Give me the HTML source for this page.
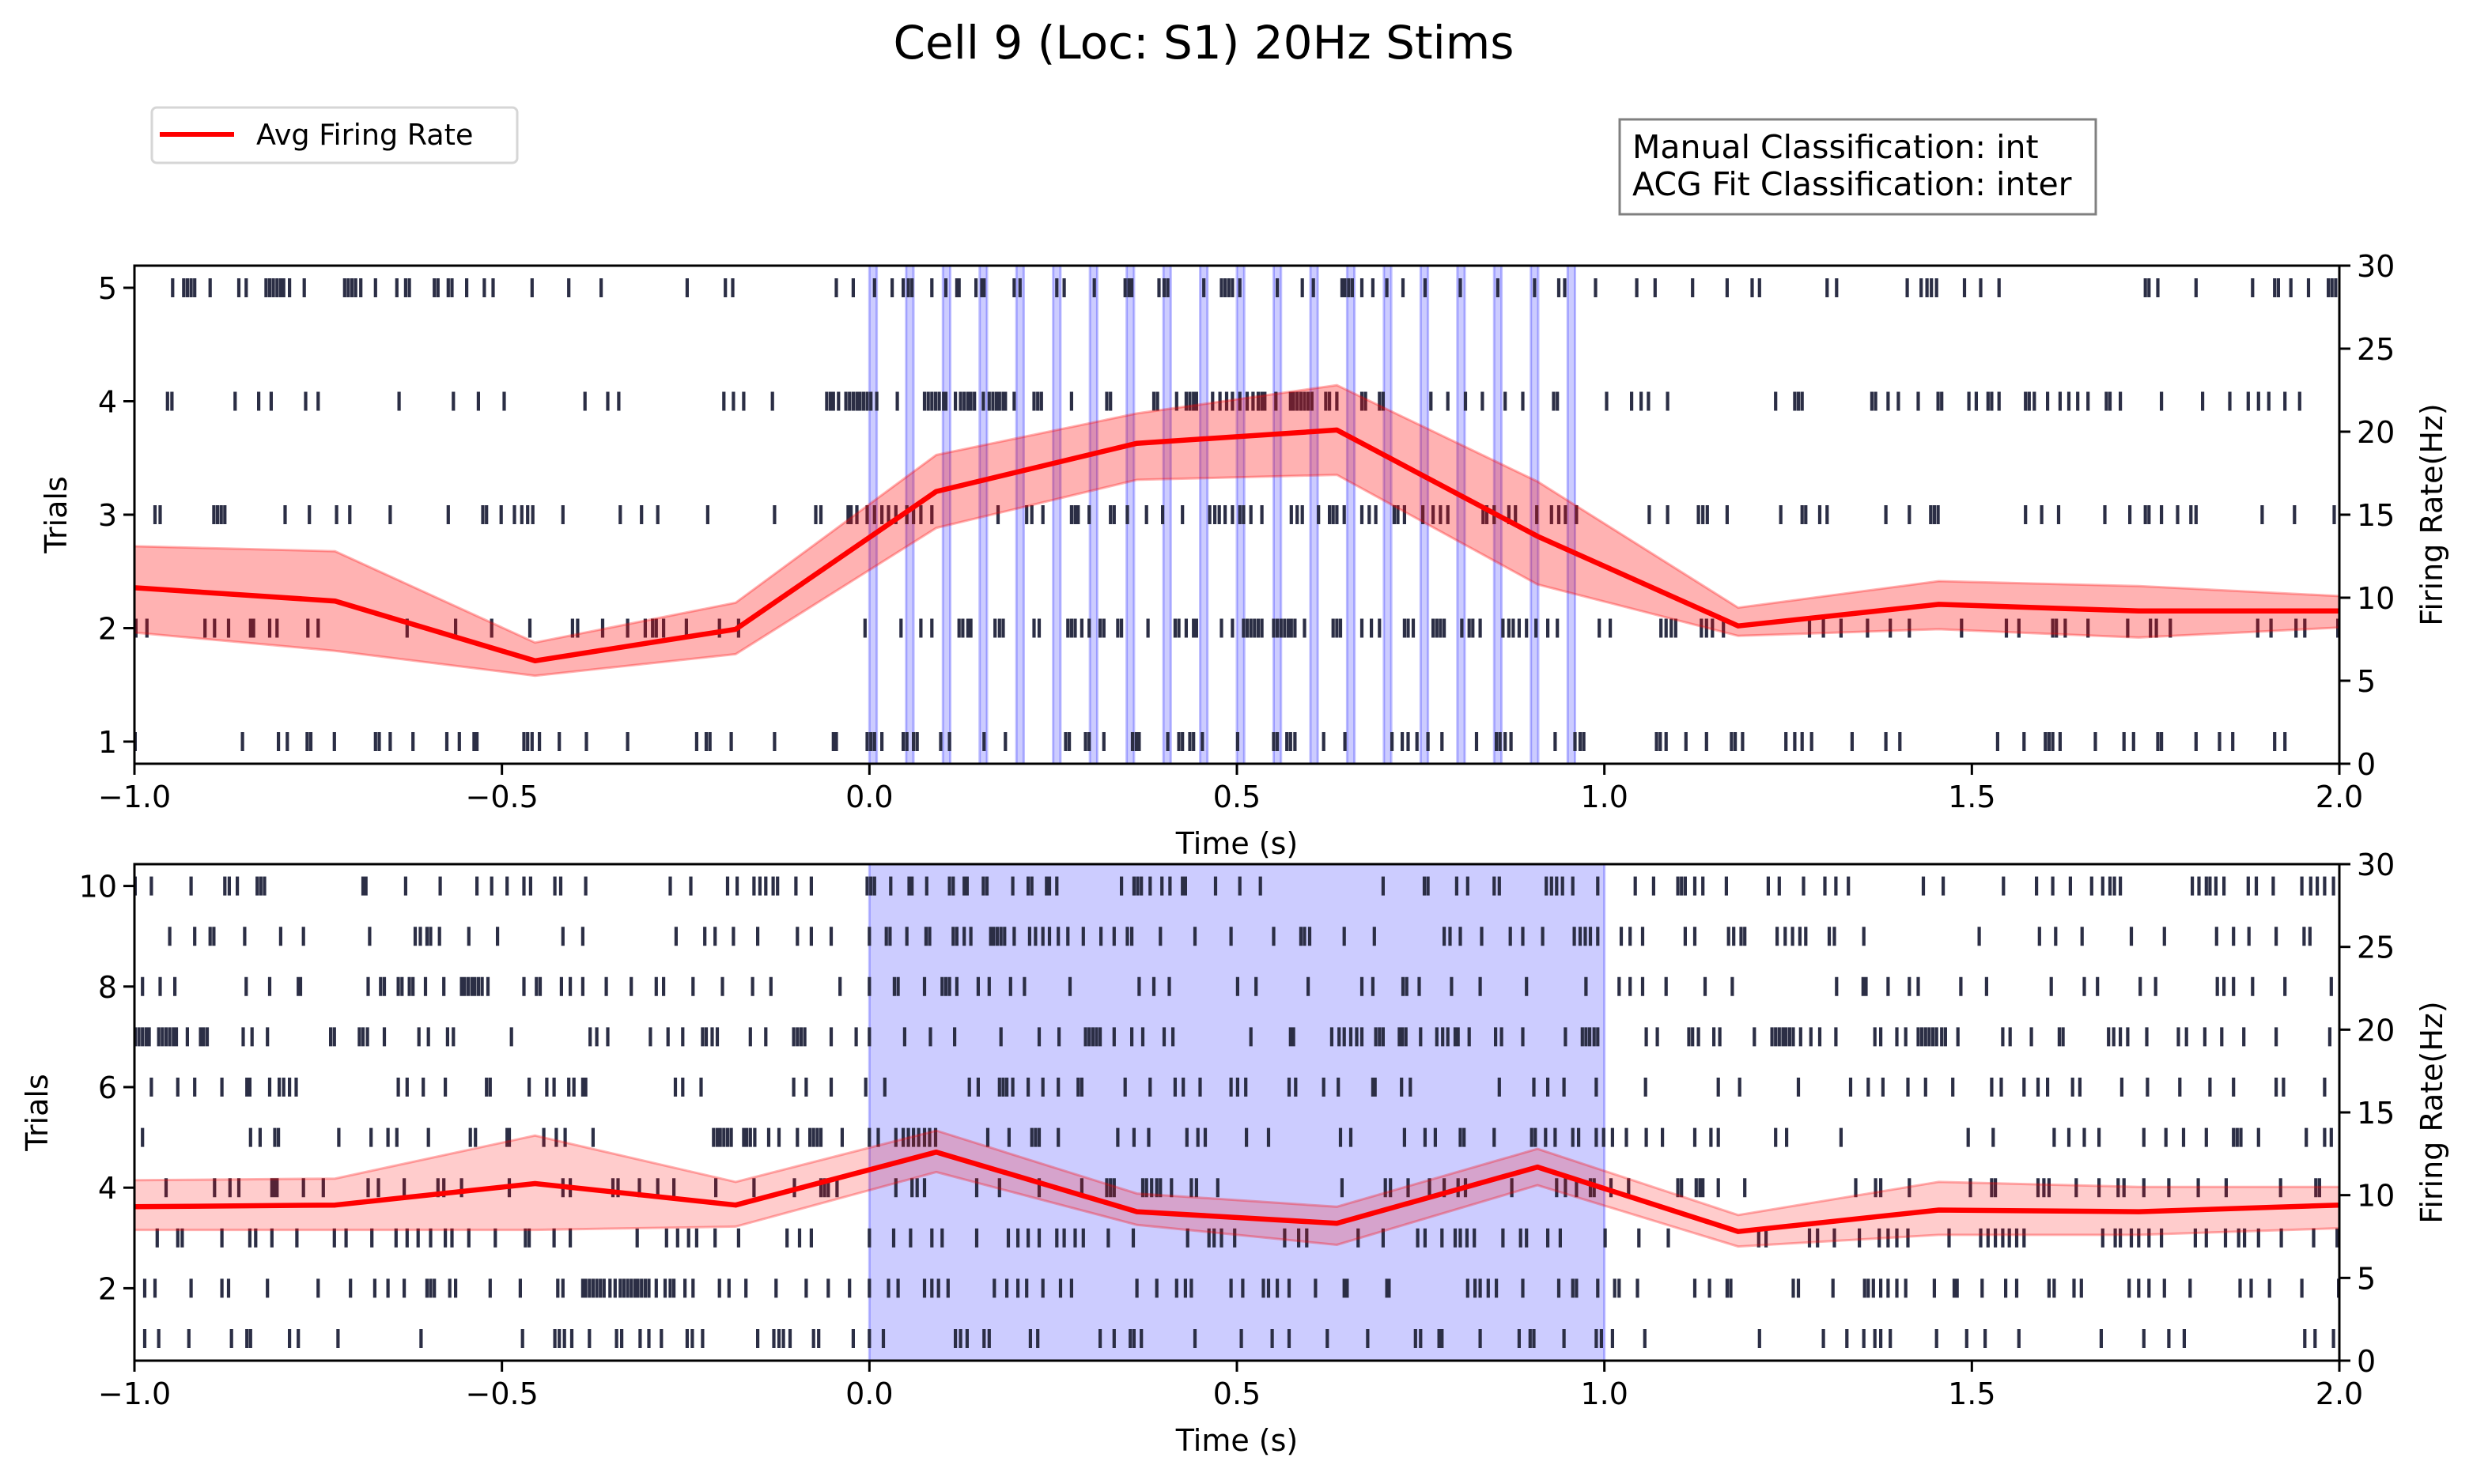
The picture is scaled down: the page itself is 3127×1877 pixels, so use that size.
<!DOCTYPE html>
<html><head><meta charset="utf-8"><title>Cell 9 (Loc: S1) 20Hz Stims</title>
<style>
html,body{margin:0;padding:0;background:#fff;}
svg{display:block;font-family:"DejaVu Sans","Liberation Sans",sans-serif;}
</style></head>
<body>
<svg id="fig" width="3127" height="1877" viewBox="0 0 3127 1877" xmlns="http://www.w3.org/2000/svg">
<rect x="0" y="0" width="3127" height="1877" fill="#fff"/>
<text x="1522" y="74" font-size="58" text-anchor="middle">Cell 9 (Loc: S1) 20Hz Stims</text>
<g>
<rect x="192" y="136" width="462" height="70" rx="6" fill="#fff" stroke="#d6d6d6" stroke-width="3"/>
<line x1="202" y1="170" x2="296" y2="170" stroke="#ff0000" stroke-width="6"/>
<text x="324" y="183" font-size="36.5">Avg Firing Rate</text>
</g>
<g>
<rect x="2048" y="151" width="602" height="120" fill="#fff" stroke="#808080" stroke-width="3"/>
<text x="2064" y="200" font-size="41">Manual Classification: int</text>
<text x="2064" y="247" font-size="41">ACG Fit Classification: inter</text>
</g>
<g id="top"></g>
<g id="bot"></g>
</svg>
<script>
const rateTimes = [-1,-0.727,-0.455,-0.182,0.091,0.364,0.636,0.909,1.182,1.455,1.727,2.0];
const topRate = [10.6,9.8,6.2,8.1,16.4,19.3,20.1,13.7,8.3,9.6,9.2,9.2];
const topUpper = [13.1,12.8,7.3,9.7,18.6,21.1,22.8,17.0,9.4,11.0,10.7,10.1];
const topLower = [7.9,6.8,5.3,6.6,14.2,17.1,17.4,10.8,7.7,8.1,7.6,8.2];
const botRate = [9.3,9.4,10.7,9.4,12.6,9.0,8.3,11.7,7.8,9.1,9.0,9.4];
const botUpper = [10.9,11.0,13.6,10.8,13.9,10.1,9.3,12.8,8.8,10.8,10.5,10.5];
const botLower = [7.9,7.9,7.9,8.1,11.4,8.2,7.0,10.6,6.9,7.6,7.6,8.0];
const stimOnsets = [0,0.05,0.1,0.15,0.2,0.25,0.3,0.35,0.4,0.45,0.5,0.55,0.6,0.65,0.7,0.75,0.8,0.85,0.9,0.95];
const stimWidth = 0.01;
const xTicks = [-1.0,-0.5,0.0,0.5,1.0,1.5,2.0];
const xTickLabels = ["\u22121.0","\u22120.5","0.0","0.5","1.0","1.5","2.0"];
const rateTicks = [0,5,10,15,20,25,30];
const topTrialTicks = [1,2,3,4,5];
const botTrialTicks = [2,4,6,8,10];

const topSpikes1 = [-0.999,-0.853,-0.804,-0.792,-0.765,-0.760,-0.728,-0.672,-0.667,-0.652,-0.621,-0.575,-0.558,-0.538,-0.534,-0.470,-0.465,-0.459,-0.449,-0.422,-0.385,-0.329,-0.235,-0.222,-0.217,-0.188,-0.129,-0.049,-0.045,-0.003,0.002,0.007,0.017,0.046,0.051,0.060,0.065,0.097,0.109,0.156,0.185,0.267,0.272,0.294,0.299,0.319,0.358,0.363,0.367,0.406,0.421,0.426,0.436,0.441,0.453,0.501,0.550,0.555,0.568,0.573,0.579,0.618,0.647,0.711,0.725,0.733,0.745,0.760,0.779,0.826,0.853,0.858,0.865,0.873,0.933,0.960,0.967,0.972,1.071,1.076,1.084,1.111,1.139,1.173,1.178,1.188,1.247,1.259,1.269,1.282,1.337,1.383,1.402,1.535,1.571,1.600,1.605,1.610,1.620,1.668,1.707,1.720,1.753,1.758,1.805,1.837,1.855,1.912,1.926];
const topSpikes2 = [-0.998,-0.983,-0.904,-0.891,-0.872,-0.842,-0.838,-0.816,-0.806,-0.764,-0.750,-0.629,-0.563,-0.514,-0.462,-0.404,-0.397,-0.363,-0.329,-0.305,-0.295,-0.290,-0.280,-0.249,-0.204,-0.178,-0.006,0.043,0.070,0.085,0.122,0.127,0.134,0.138,0.171,0.177,0.182,0.224,0.231,0.270,0.275,0.280,0.289,0.299,0.314,0.319,0.338,0.343,0.379,0.416,0.421,0.431,0.441,0.445,0.479,0.494,0.509,0.514,0.519,0.524,0.529,0.534,0.550,0.555,0.560,0.565,0.570,0.574,0.579,0.592,0.631,0.636,0.641,0.670,0.683,0.694,0.728,0.733,0.740,0.767,0.772,0.777,0.782,0.806,0.816,0.821,0.831,0.862,0.870,0.876,0.884,0.894,0.907,0.923,0.936,0.993,1.008,1.077,1.084,1.091,1.097,1.132,1.139,1.147,1.162,1.279,1.298,1.322,1.358,1.389,1.415,1.486,1.547,1.564,1.610,1.615,1.627,1.658,1.712,1.743,1.751,1.770,1.889,1.907,1.941,1.953,1.998];
const topSpikes3 = [-0.972,-0.965,-0.892,-0.887,-0.882,-0.877,-0.795,-0.762,-0.725,-0.707,-0.652,-0.573,-0.526,-0.521,-0.501,-0.483,-0.473,-0.465,-0.458,-0.417,-0.339,-0.310,-0.288,-0.220,-0.129,-0.073,-0.066,-0.029,-0.025,-0.017,-0.003,0.007,0.017,0.026,0.036,0.051,0.060,0.070,0.085,0.175,0.214,0.221,0.236,0.275,0.280,0.284,0.299,0.328,0.333,0.351,0.377,0.399,0.426,0.463,0.470,0.476,0.484,0.494,0.504,0.509,0.519,0.534,0.574,0.582,0.589,0.611,0.626,0.631,0.636,0.646,0.670,0.680,0.689,0.714,0.719,0.728,0.753,0.767,0.777,0.787,0.835,0.840,0.850,0.870,0.879,0.908,0.928,0.938,0.947,0.962,1.061,1.086,1.128,1.134,1.140,1.167,1.240,1.269,1.274,1.293,1.303,1.383,1.415,1.444,1.449,1.454,1.573,1.595,1.618,1.681,1.715,1.736,1.741,1.758,1.780,1.798,1.805,1.895,1.939,1.993];
const topSpikes4 = [-0.955,-0.949,-0.863,-0.831,-0.814,-0.767,-0.750,-0.640,-0.566,-0.532,-0.497,-0.387,-0.356,-0.341,-0.198,-0.185,-0.171,-0.132,-0.058,-0.053,-0.049,-0.042,-0.032,-0.027,-0.022,-0.017,-0.013,-0.008,-0.003,0.002,0.010,0.038,0.075,0.080,0.085,0.090,0.095,0.101,0.104,0.117,0.124,0.129,0.134,0.138,0.143,0.155,0.163,0.168,0.173,0.177,0.182,0.185,0.197,0.224,0.229,0.234,0.275,0.323,0.328,0.387,0.392,0.418,0.431,0.436,0.441,0.445,0.467,0.477,0.486,0.494,0.504,0.514,0.522,0.529,0.534,0.538,0.553,0.573,0.577,0.582,0.587,0.592,0.597,0.602,0.621,0.626,0.636,0.670,0.675,0.694,0.699,0.764,0.787,0.811,0.834,0.865,0.889,0.931,0.936,1.003,1.037,1.050,1.060,1.086,1.233,1.259,1.264,1.269,1.364,1.369,1.386,1.400,1.427,1.454,1.459,1.496,1.506,1.522,1.527,1.537,1.573,1.578,1.585,1.603,1.620,1.632,1.644,1.658,1.683,1.688,1.702,1.758,1.814,1.851,1.876,1.890,1.904,1.926,1.946];
const topSpikes5 = [-0.948,-0.933,-0.928,-0.923,-0.918,-0.897,-0.858,-0.848,-0.821,-0.816,-0.811,-0.806,-0.801,-0.797,-0.789,-0.769,-0.714,-0.709,-0.704,-0.699,-0.692,-0.672,-0.643,-0.631,-0.626,-0.592,-0.587,-0.573,-0.568,-0.548,-0.524,-0.512,-0.459,-0.409,-0.365,-0.248,-0.196,-0.186,-0.045,-0.022,0.007,0.031,0.046,0.053,0.058,0.085,0.104,0.119,0.122,0.145,0.153,0.156,0.197,0.205,0.255,0.265,0.306,0.348,0.353,0.357,0.394,0.401,0.406,0.455,0.479,0.484,0.489,0.494,0.504,0.555,0.589,0.604,0.643,0.647,0.652,0.657,0.670,0.685,0.704,0.726,0.756,0.804,0.855,0.905,0.938,0.946,0.988,1.044,1.069,1.120,1.167,1.201,1.211,1.303,1.316,1.412,1.431,1.439,1.445,1.452,1.490,1.512,1.537,1.736,1.741,1.753,1.805,1.882,1.912,1.917,1.934,1.958,1.985,1.990,1.995];

const botSpikes1 = [-0.986,-0.967,-0.926,-0.868,-0.847,-0.842,-0.789,-0.777,-0.723,-0.610,-0.472,-0.428,-0.422,-0.415,-0.405,-0.381,-0.344,-0.337,-0.312,-0.300,-0.283,-0.248,-0.241,-0.227,-0.152,-0.130,-0.123,-0.117,-0.108,-0.076,-0.069,-0.022,0.000,0.019,0.117,0.124,0.133,0.156,0.163,0.219,0.229,0.314,0.333,0.355,0.360,0.370,0.443,0.506,0.548,0.571,0.623,0.678,0.743,0.750,0.775,0.779,0.831,0.884,0.899,0.904,0.945,0.989,0.996,1.011,1.055,1.211,1.298,1.330,1.353,1.368,1.376,1.389,1.452,1.493,1.518,1.564,1.676,1.734,1.768,1.789,1.953,1.967,1.992];
const botSpikes2 = [-0.986,-0.972,-0.923,-0.881,-0.872,-0.819,-0.750,-0.706,-0.673,-0.655,-0.633,-0.602,-0.597,-0.592,-0.571,-0.563,-0.516,-0.475,-0.424,-0.417,-0.390,-0.386,-0.381,-0.376,-0.371,-0.366,-0.361,-0.353,-0.346,-0.339,-0.334,-0.329,-0.324,-0.319,-0.315,-0.310,-0.305,-0.300,-0.290,-0.278,-0.271,-0.266,-0.251,-0.240,-0.204,-0.191,-0.168,-0.127,-0.086,-0.056,-0.027,0.000,0.026,0.039,0.075,0.085,0.094,0.107,0.170,0.187,0.202,0.214,0.236,0.260,0.275,0.364,0.391,0.418,0.430,0.438,0.492,0.508,0.536,0.543,0.555,0.571,0.607,0.646,0.650,0.704,0.707,0.814,0.824,0.831,0.842,0.853,0.889,0.938,0.957,0.962,0.991,1.014,1.020,1.045,1.123,1.143,1.167,1.172,1.257,1.264,1.311,1.354,1.359,1.366,1.376,1.386,1.398,1.410,1.449,1.476,1.480,1.514,1.546,1.561,1.605,1.612,1.639,1.649,1.714,1.727,1.741,1.762,1.797,1.865,1.880,1.905,1.949,1.999];
const botSpikes3 = [-0.969,-0.941,-0.935,-0.881,-0.843,-0.835,-0.813,-0.779,-0.728,-0.712,-0.677,-0.644,-0.629,-0.614,-0.597,-0.577,-0.568,-0.545,-0.509,-0.468,-0.463,-0.429,-0.407,-0.316,-0.276,-0.261,-0.246,-0.235,-0.210,-0.178,-0.112,-0.095,-0.079,0.000,0.033,0.056,0.085,0.099,0.146,0.189,0.202,0.216,0.231,0.255,0.265,0.280,0.291,0.325,0.359,0.433,0.462,0.469,0.479,0.497,0.565,0.584,0.595,0.665,0.699,0.746,0.756,0.779,0.797,0.804,0.813,0.823,0.862,0.886,0.894,0.923,0.940,1.001,1.047,1.087,1.210,1.220,1.279,1.290,1.313,1.347,1.374,1.386,1.398,1.413,1.469,1.512,1.522,1.532,1.542,1.551,1.561,1.571,1.678,1.695,1.702,1.717,1.727,1.741,1.758,1.804,1.819,1.845,1.863,1.871,1.890,1.921,1.965,1.997];
const botSpikes4 = [-0.957,-0.891,-0.870,-0.858,-0.813,-0.809,-0.806,-0.770,-0.743,-0.682,-0.668,-0.633,-0.587,-0.579,-0.555,-0.490,-0.417,-0.407,-0.349,-0.342,-0.313,-0.288,-0.266,-0.209,-0.157,-0.102,-0.066,-0.061,-0.056,-0.044,0.036,0.058,0.065,0.075,0.146,0.177,0.231,0.289,0.323,0.328,0.333,0.372,0.377,0.384,0.391,0.396,0.411,0.438,0.445,0.474,0.643,0.702,0.709,0.733,0.762,0.782,0.801,0.811,0.874,0.935,0.947,0.962,0.981,0.986,1.009,1.033,1.100,1.105,1.125,1.130,1.134,1.155,1.191,1.342,1.369,1.376,1.415,1.498,1.527,1.532,1.590,1.598,1.605,1.642,1.673,1.699,1.707,1.734,1.768,1.808,1.846,1.920,1.968,1.973];
const botSpikes5 = [-0.989,-0.842,-0.829,-0.809,-0.804,-0.722,-0.678,-0.655,-0.643,-0.600,-0.543,-0.536,-0.493,-0.490,-0.443,-0.426,-0.414,-0.376,-0.212,-0.207,-0.203,-0.198,-0.193,-0.188,-0.171,-0.167,-0.162,-0.156,-0.137,-0.123,-0.098,-0.081,-0.076,-0.071,-0.066,-0.037,0.000,0.012,0.036,0.046,0.053,0.060,0.067,0.075,0.082,0.090,0.161,0.190,0.221,0.226,0.231,0.257,0.338,0.360,0.380,0.432,0.447,0.457,0.513,0.543,0.641,0.655,0.728,0.756,0.770,0.804,0.809,0.850,0.901,0.906,0.920,0.933,0.957,0.965,0.989,0.999,1.011,1.030,1.057,1.079,1.123,1.145,1.155,1.233,1.248,1.322,1.495,1.529,1.612,1.632,1.653,1.673,1.734,1.764,1.788,1.819,1.856,1.861,1.866,1.890,1.955,1.980,1.989];
const botSpikes6 = [-0.977,-0.941,-0.918,-0.881,-0.847,-0.843,-0.816,-0.803,-0.797,-0.789,-0.780,-0.641,-0.629,-0.607,-0.577,-0.521,-0.516,-0.463,-0.439,-0.429,-0.409,-0.402,-0.390,-0.386,-0.264,-0.254,-0.229,-0.103,-0.086,-0.052,-0.005,0.021,0.136,0.148,0.177,0.182,0.187,0.195,0.216,0.236,0.257,0.284,0.289,0.348,0.382,0.416,0.427,0.450,0.492,0.501,0.512,0.571,0.580,0.618,0.638,0.685,0.688,0.724,0.736,0.857,0.904,0.923,0.945,0.989,1.056,1.155,1.184,1.264,1.335,1.359,1.379,1.413,1.437,1.474,1.527,1.540,1.571,1.590,1.603,1.637,1.647,1.704,1.739,1.783,1.824,1.856,1.914,1.924,1.980];
const botSpikes7 = [-0.999,-0.994,-0.989,-0.984,-0.980,-0.967,-0.962,-0.957,-0.952,-0.947,-0.943,-0.928,-0.910,-0.906,-0.901,-0.852,-0.840,-0.819,-0.733,-0.728,-0.694,-0.689,-0.683,-0.660,-0.613,-0.600,-0.574,-0.566,-0.487,-0.380,-0.371,-0.356,-0.298,-0.274,-0.254,-0.227,-0.222,-0.214,-0.207,-0.162,-0.141,-0.103,-0.098,-0.093,-0.088,-0.052,-0.018,0.000,0.048,0.083,0.116,0.179,0.231,0.258,0.294,0.299,0.304,0.309,0.314,0.333,0.357,0.372,0.401,0.413,0.519,0.573,0.577,0.629,0.639,0.646,0.655,0.663,0.670,0.689,0.694,0.699,0.721,0.725,0.730,0.750,0.772,0.780,0.787,0.797,0.801,0.816,0.852,0.860,0.889,0.947,0.970,0.975,0.980,0.986,0.991,1.057,1.072,1.115,1.120,1.128,1.149,1.157,1.204,1.228,1.233,1.238,1.243,1.247,1.252,1.257,1.267,1.281,1.293,1.315,1.368,1.376,1.398,1.410,1.427,1.432,1.437,1.442,1.447,1.452,1.459,1.464,1.481,1.542,1.552,1.581,1.619,1.624,1.686,1.693,1.702,1.712,1.738,1.781,1.792,1.817,1.840,1.870,1.914,1.987];
const botSpikes8 = [-0.989,-0.965,-0.945,-0.848,-0.816,-0.777,-0.774,-0.682,-0.665,-0.660,-0.641,-0.636,-0.626,-0.621,-0.604,-0.579,-0.555,-0.551,-0.546,-0.541,-0.537,-0.532,-0.527,-0.519,-0.470,-0.453,-0.448,-0.419,-0.407,-0.390,-0.358,-0.324,-0.290,-0.280,-0.240,-0.200,-0.159,-0.134,-0.040,0.000,0.034,0.039,0.075,0.099,0.104,0.109,0.119,0.148,0.163,0.192,0.211,0.273,0.367,0.387,0.408,0.501,0.526,0.597,0.670,0.685,0.726,0.731,0.748,0.792,0.831,0.894,0.975,1.020,1.035,1.052,1.084,1.137,1.174,1.316,1.352,1.356,1.386,1.415,1.427,1.485,1.520,1.608,1.653,1.671,1.729,1.750,1.834,1.843,1.856,1.882,1.926,1.989];
const botSpikes9 = [-0.952,-0.918,-0.897,-0.892,-0.850,-0.801,-0.770,-0.680,-0.618,-0.611,-0.602,-0.597,-0.585,-0.545,-0.506,-0.417,-0.390,-0.263,-0.224,-0.210,-0.185,-0.152,-0.098,-0.079,-0.052,0.000,0.023,0.028,0.051,0.077,0.082,0.114,0.119,0.129,0.138,0.165,0.169,0.174,0.179,0.184,0.197,0.218,0.226,0.236,0.245,0.257,0.270,0.291,0.315,0.333,0.351,0.357,0.396,0.443,0.492,0.550,0.587,0.592,0.599,0.646,0.687,0.782,0.790,0.804,0.833,0.872,0.889,0.916,0.959,0.967,0.974,0.981,0.991,1.023,1.035,1.052,1.110,1.123,1.169,1.176,1.186,1.191,1.235,1.246,1.256,1.266,1.274,1.306,1.313,1.353,1.510,1.592,1.614,1.650,1.717,1.762,1.833,1.856,1.877,1.914,1.952,1.960];
const botSpikes10 = [-0.999,-0.977,-0.923,-0.877,-0.871,-0.860,-0.833,-0.828,-0.823,-0.689,-0.685,-0.631,-0.584,-0.534,-0.514,-0.493,-0.470,-0.461,-0.428,-0.420,-0.386,-0.271,-0.243,-0.193,-0.180,-0.157,-0.149,-0.141,-0.131,-0.125,-0.100,-0.079,-0.003,0.002,0.007,0.029,0.054,0.058,0.078,0.109,0.114,0.129,0.133,0.155,0.160,0.195,0.216,0.221,0.241,0.245,0.255,0.343,0.360,0.365,0.370,0.382,0.398,0.409,0.426,0.430,0.471,0.504,0.532,0.699,0.755,0.760,0.799,0.814,0.850,0.857,0.921,0.928,0.935,0.943,0.957,0.991,1.042,1.067,1.100,1.105,1.110,1.123,1.134,1.166,1.223,1.238,1.271,1.300,1.315,1.332,1.434,1.461,1.543,1.588,1.610,1.634,1.663,1.678,1.688,1.694,1.702,1.800,1.809,1.819,1.824,1.832,1.843,1.876,1.887,1.910,1.949,1.961,1.970,1.980,1.992];

const topSpikes = [topSpikes1,topSpikes2,topSpikes3,topSpikes4,topSpikes5];
const botSpikes = [botSpikes1,botSpikes2,botSpikes3,botSpikes4,botSpikes5,botSpikes6,botSpikes7,botSpikes8,botSpikes9,botSpikes10];

const NS = "http://www.w3.org/2000/svg";
function mk(tag, attrs, parent){
  const e = document.createElementNS(NS, tag);
  for (const k in attrs) e.setAttribute(k, attrs[k]);
  parent.appendChild(e);
  return e;
}
const X0 = 170, X1 = 2958;
function xs(t){ return X0 + (t + 1) / 3 * (X1 - X0); }

function drawPanel(g, cfg){
  const yT = cfg.yTrial, yR = cfg.yRate, top = cfg.top, bot = cfg.bot;
  const clipId = cfg.id + "-clip";
  const cp = mk("clipPath", {id: clipId}, g);
  mk("rect", {x: X0, y: top, width: X1 - X0, height: bot - top}, cp);
  const plot = mk("g", {"clip-path": "url(#" + clipId + ")"}, g);
  
  

  if (cfg.stims) {
    stimOnsets.forEach(function(s){
      const r = mk("rect", {x: xs(s), y: top, width: xs(s + stimWidth) - xs(s), height: bot - top, fill: "rgba(0,0,255,0.2)", stroke: "rgba(0,0,255,0.25)", "stroke-width": 3}, plot);
      
      
    });
  } else {
    const r = mk("rect", {x: xs(0), y: top, width: xs(1) - xs(0), height: bot - top, fill: "rgba(0,0,255,0.2)", stroke: "rgba(0,0,255,0.25)", "stroke-width": 3}, plot);
    
    
  }

  cfg.spikes.forEach(function(arr, i){
    const trial = i + 1;
    const yc = yT(trial);
    let d = "";
    arr.forEach(function(t){ const x = xs(t).toFixed(1); d += "M" + x + " " + (yc - 12) + "V" + (yc + 12); });
    const p = mk("path", {d: d, stroke: "#2b2e45", "stroke-width": 4.2, fill: "none"}, plot);
    
    
  });

  let up = "", lo = "";
  rateTimes.forEach(function(t, i){ up += (i ? "L" : "M") + xs(t).toFixed(1) + " " + yR(cfg.upper[i]).toFixed(1); });
  for (let i = rateTimes.length - 1; i >= 0; i--) lo += "L" + xs(rateTimes[i]).toFixed(1) + " " + yR(cfg.lower[i]).toFixed(1);
  const band = mk("path", {d: up + lo + "Z", fill: cfg.bandFill, stroke: "rgba(255,0,0,0.3)", "stroke-width": 3}, plot);
  
  
  let ln = "";
  rateTimes.forEach(function(t, i){ ln += (i ? "L" : "M") + xs(t).toFixed(1) + " " + yR(cfg.rate[i]).toFixed(1); });
  const line = mk("path", {d: ln, stroke: "#ff0000", "stroke-width": 6.5, fill: "none", "stroke-linejoin": "round"}, plot);
  
  

  const frame = mk("rect", {x: X0, y: top, width: X1 - X0, height: bot - top, fill: "none", stroke: "#000", "stroke-width": 3}, g);
  
  

  const xa = mk("g", {}, g);
  
  
  xTicks.forEach(function(v, i){
    mk("line", {x1: xs(v), x2: xs(v), y1: bot, y2: bot + 14, stroke: "#000", "stroke-width": 3}, xa);
    const tx = mk("text", {x: xs(v), y: bot + 55, "font-size": 38, "text-anchor": "middle"}, xa);
    tx.textContent = xTickLabels[i];
    
    
  });
  const xl = mk("text", {x: (X0 + X1) / 2, y: bot + 114, "font-size": 38, "text-anchor": "middle"}, g);
  xl.textContent = "Time (s)";
  
  

  const ya = mk("g", {}, g);
  
  
  cfg.trialTicks.forEach(function(v){
    mk("line", {x1: X0 - 14, x2: X0, y1: yT(v), y2: yT(v), stroke: "#000", "stroke-width": 3}, ya);
    const tx = mk("text", {x: X0 - 22, y: yT(v) + 14, "font-size": 38, "text-anchor": "end"}, ya);
    tx.textContent = String(v);
    
    
  });
  const cy = (top + bot) / 2;
  const yl = mk("text", {x: cfg.trialLabelX, y: cy, "font-size": 38, "text-anchor": "middle", transform: "rotate(-90 " + cfg.trialLabelX + " " + cy + ")"}, g);
  yl.textContent = "Trials";
  
  

  const ra = mk("g", {}, g);
  
  
  rateTicks.forEach(function(v){
    mk("line", {x1: X1, x2: X1 + 14, y1: yR(v), y2: yR(v), stroke: "#000", "stroke-width": 3}, ra);
    const tx = mk("text", {x: X1 + 22, y: yR(v) + 14, "font-size": 38, "text-anchor": "start"}, ra);
    tx.textContent = String(v);
    
    
  });
  const rx = 3088;
  const rl = mk("text", {x: rx, y: cy, "font-size": 38, "text-anchor": "middle", transform: "rotate(-90 " + rx + " " + cy + ")"}, g);
  rl.textContent = "Firing Rate(Hz)";
  
  
}

drawPanel(document.getElementById("top"), {
  id: "top", top: 336, bot: 966,
  yTrial: function(t){ return 938 - (t - 1) * 143.5; },
  yRate: function(r){ return 966 - r / 30 * 630; },
  spikes: topSpikes, rate: topRate, upper: topUpper, lower: topLower,
  stims: true, trialTicks: topTrialTicks, trialLabelX: 84,
  bandFill: "rgba(255,0,0,0.3)"
});
drawPanel(document.getElementById("bot"), {
  id: "bot", top: 1093, bot: 1721,
  yTrial: function(t){ return 1693 - (t - 1) * 63.6; },
  yRate: function(r){ return 1721 - r / 30 * 628; },
  spikes: botSpikes, rate: botRate, upper: botUpper, lower: botLower,
  stims: false, trialTicks: botTrialTicks, trialLabelX: 60,
  bandFill: "rgba(255,0,0,0.2)"
});
</script>
</body></html>
